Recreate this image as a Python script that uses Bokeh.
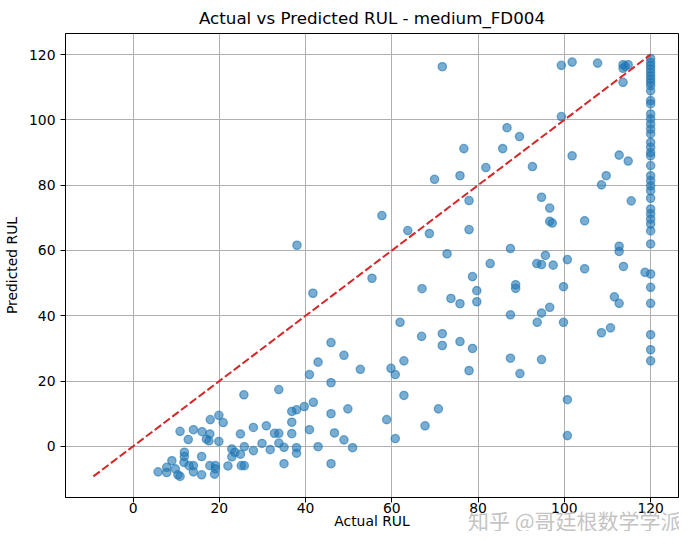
from bokeh.plotting import figure
from bokeh.models import FixedTicker, Range1d, Title
from bokeh.embed import file_html
from bokeh.resources import INLINE

TITLE = "Actual vs Predicted RUL - medium_FD004"
X_LABEL = "Actual RUL"
Y_LABEL = "Predicted RUL"
TICKS = [0, 20, 40, 60, 80, 100, 120]
WATERMARK = "知乎 @哥廷根数学学派"

actual_rul = [
    5.8, 7.8, 7.8, 9.0, 9.8, 10.4, 10.9, 10.9, 11.8, 11.9, 11.9, 12.8, 13.0, 14.0, 14.0, 14.0,
    15.9, 15.9, 16.0, 17.0, 17.6, 17.8, 17.8, 17.9, 18.9, 19.1, 19.1, 19.9, 19.9, 20.9, 22.0,
    22.9, 22.9, 23.6, 24.9, 24.9, 25.1, 25.8, 25.8, 25.7, 27.9, 27.9, 29.9, 30.9, 31.8, 32.8,
    33.8, 33.8, 33.8, 35.0, 35.0, 36.8, 36.8, 36.8, 37.9, 37.9, 37.9, 38.0, 39.7, 40.9, 40.9,
    41.7, 41.8, 42.9, 42.9, 45.9, 45.9, 45.9, 45.9, 46.7, 48.9, 48.9, 49.8, 50.9, 52.7, 55.4,
    57.7, 58.8, 59.8, 60.8, 60.8, 61.9, 62.8, 62.8, 63.7, 66.9, 67.0, 67.7, 68.7, 69.9, 70.8,
    71.7, 71.7, 71.7, 72.8, 73.7, 75.8, 75.8, 75.8, 76.7, 77.9, 77.9, 77.9, 78.7, 78.7, 79.7,
    79.7, 81.8, 82.8, 85.7, 86.7, 87.5, 87.5, 87.5, 88.7, 88.7, 89.6, 89.7, 92.6, 93.6, 93.7,
    94.7, 94.7, 94.7, 94.7, 95.6, 96.6, 96.6, 97.2, 97.4, 96.6, 99.3, 99.3, 99.8, 99.8, 100.7,
    100.7, 100.7, 101.8, 101.8, 104.7, 104.7, 107.7, 108.6, 108.6, 109.7, 110.7, 111.6, 112.7,
    112.7, 112.7, 112.7, 113.6, 114.1, 113.6, 113.6, 113.7, 114.8, 114.8, 115.5, 118.7,
    120, 120, 120, 120, 120, 120, 120, 120, 120, 120, 120, 120, 120, 120, 120, 120, 120, 120,
    120, 120, 120, 120, 120, 120, 120, 120, 120, 120, 120, 120, 120, 120, 120, 120, 120, 120,
    120, 120, 120,
]
predicted_rul = [
    -7.8, -6.4, -8.0, -4.4, -6.9, -8.7, -9.2, 4.6, -4.9, -1.8, -3.1, 2.1, -5.9, -5.9, 5.1, -7.8,
    -3.1, -8.7, 4.5, 2.2, 1.7, 3.8, -5.9, 8.2, -8.5, -5.9, -6.9, 9.5, 1.5, 7.3, -6.0,
    -0.8, -3.2, -1.8, 3.8, -2.4, -5.9, -5.9, -0.1, 15.8, 5.8, -1.3, 0.9, 6.3, -1.0, 4.0,
    4.0, 1.0, 17.4, -0.3, -5.3, 3.9, 7.4, 10.7, 11.2, -0.4, -2.1, 61.6, 12.2, 22.0, 5.1,
    46.9, 13.5, 25.8, -0.1, 31.8, 19.5, 10.0, -5.3, 4.1, 27.9, 2.0, 11.5, -0.4, 23.6, 51.5,
    70.7, 8.2, 23.9, 22.0, 2.4, 38.0, 26.2, 15.6, 66.1, 33.7, 48.3, 6.3, 65.2, 81.8, 11.5,
    116.3, 34.5, 30.9, 59.0, 45.3, 43.7, 32.1, 82.9, 91.2, 75.3, 66.4, 23.2, 52.0, 30.0, 47.7,
    44.3, 85.4, 56.0, 91.2, 97.6, 60.6, 40.3, 27.0, 49.5, 48.4, 94.9, 22.3, 85.7, 56.0, 38.0,
    76.3, 55.7, 40.8, 26.6, 58.5, 73.0, 68.9, 68.4, 55.5, 42.6, 116.7, 101.0, 48.9, 38.0, 57.2,
    14.3, 3.3, 117.7, 89.0, 69.1, 54.4, 117.4, 80.1, 34.8, 82.9, 36.3, 45.8, 89.2,
    61.3, 59.7, 43.8, 116.9, 116.4, 115.8, 111.5, 55.1, 116.9, 87.4, 75.2, 53.3,
    118.8, 117.6, 116.6, 115.6, 114.5, 113.5, 112.5, 111.5, 110.5, 108.9, 105.9, 104.9, 101.8,
    100.3, 98.7, 97.2, 95.7, 93.1, 91.6, 90.0, 89.0, 86.0, 82.9, 81.4, 79.8, 78.3, 76.0, 72.7,
    71.2, 69.6, 68.1, 66.0, 62.0, 52.8, 48.7, 43.8, 34.2, 29.6, 26.2,
]

lo = min(min(actual_rul), min(predicted_rul))
hi = max(max(actual_rul), max(predicted_rul))
pad = 0.05 * (hi - lo)

FONT = "DejaVu Sans"

p = figure(
    width=679, height=531,
    output_backend="svg", toolbar_location=None,
    x_range=Range1d(lo - pad, hi + pad), y_range=Range1d(lo - pad, hi + pad),
    min_border_left=59, min_border_right=1, min_border_top=0, min_border_bottom=0,
    title=TITLE,
)
p.title.align = "center"
p.title.text_font = FONT
p.title.text_font_size = "16.7px"
p.title.text_font_style = "normal"
p.title.text_color = "black"
p.title.standoff = 11

for ax in (p.xaxis, p.yaxis):
    ax.ticker = FixedTicker(ticks=TICKS)
    ax.major_label_text_font = FONT
    ax.major_label_text_font_size = "13.9px"
    ax.major_label_text_color = "black"
    ax.axis_label_text_font = FONT
    ax.axis_label_text_font_size = "13.9px"
    ax.axis_label_text_font_style = "normal"
    ax.axis_label_text_color = "black"
    ax.minor_tick_line_color = None
    ax.major_tick_out = 5
    ax.major_tick_in = 0
    ax.major_tick_line_color = "black"
    ax.major_tick_line_width = 1
    ax.axis_line_color = "black"
    ax.axis_line_width = 1

p.xaxis.axis_label = X_LABEL
p.yaxis.axis_label = Y_LABEL
p.xaxis.major_label_standoff = 0
p.xaxis.axis_label_standoff = -3
p.yaxis.major_label_standoff = 5
p.yaxis.axis_label_standoff = 6

p.grid.grid_line_color = "#b0b0b0"
p.grid.grid_line_width = 1
p.outline_line_color = "black"
p.outline_line_width = 1
p.outline_line_alpha = 1

p.scatter(actual_rul, predicted_rul, size=8.3, marker="circle",
          fill_color="#1f77b4", fill_alpha=0.6,
          line_color="#1f77b4", line_alpha=0.6, line_width=1.3)

p.line([lo, hi], [lo, hi], line_color="#d62728", line_width=2, line_dash="8 3")

wm = Title(text=WATERMARK + "\n", align="right", standoff=-60, offset=-3,
           text_font="Noto Sans CJK SC", text_font_size="21px", text_font_style="normal",
           text_line_height=0.9, text_color="#b8b8b8", text_alpha=0.85)
p.add_layout(wm, "below")

open("out.html", "w").write(file_html(p, INLINE))
